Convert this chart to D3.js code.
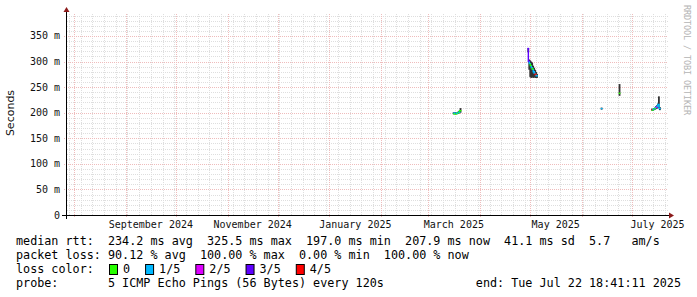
<!DOCTYPE html>
<html>
<head>
<meta charset="utf-8">
<script src="https://cdn.jsdelivr.net/npm/d3@7/dist/d3.min.js"></script>
<style>
  body { margin: 0; background: #fff; }
  svg { display: block; }
  text { font-family: "DejaVu Sans Mono", monospace; }
</style>
</head>
<body>
<div id="chart"></div>
<script>
// smokeping style rtt graph, last 360 days

// === DATA ===
const endTime = new Date(2025, 6, 22, 18, 41, 11);
const startTime = new Date(endTime.getTime() - 360 * 864e5);

// samples (one per consolidated column), rtt in ms
const sampleTimes = [
    '2025-03-16T10:00', '2025-03-17T00:00', '2025-03-17T14:00', '2025-03-18T04:00',
    '2025-03-18T18:00', '2025-03-19T08:00', '2025-03-19T22:00', '2025-03-20T12:00',
    '2025-04-30T02:00', '2025-04-30T16:00', '2025-05-01T06:00', '2025-05-01T20:00',
    '2025-05-02T10:00', '2025-05-03T00:00', '2025-05-03T14:00', '2025-05-04T04:00',
    '2025-05-04T18:00', '2025-05-05T08:00',
    '2025-06-13T00:00',
    '2025-06-23T18:00',
    '2025-07-13T06:00', '2025-07-13T20:00', '2025-07-14T10:00', '2025-07-15T00:00',
    '2025-07-15T14:00', '2025-07-16T04:00', '2025-07-16T18:00', '2025-07-17T08:00',
    '2025-07-17T22:00'
];
const medianMs = [
    199, 198, 199, 198, 199, 200, 201, 204,
    325.5, 300, 296, 292, 288, 285, 280, 277, 274, 272,
    208,
    238,
    206, 205, 207, 208, 210, 211, 213, 216, 207.9
];
const smokeLoMs = [
    197, 197, 197, 197, 198, 198, 199, 200,
    318, 284, 270, 268, 270, 268, 270, 268, 268, 268,
    206,
    233,
    204, 204, 205, 206, 207, 208, 209, 209, 205
];
const smokeHiMs = [
    201, 200, 201, 200, 201, 203, 204, 209,
    326, 304, 302, 300, 298, 292, 288, 284, 280, 276,
    210,
    256,
    208, 207, 209, 210, 213, 215, 218, 232, 211
];
const lossCount = [
    1, 0, 1, 0, 1, 0, 1, 0,
    3, 3, 1, 0, 1, 0, 1, 1, 4, 1,
    1,
    0,
    4, 0, 1, 0, 1, 2, 1, 1, 1
];

const lossLabels = ['0', '1/5', '2/5', '3/5', '4/5'];
const lossColors = ['#26ff00', '#00b8ff', '#dd00ff', '#5e00ff', '#ff0000'];

const yTicks = [0, 50, 100, 150, 200, 250, 300, 350];
const xLabelMonths = ['2024-09-01', '2024-11-01', '2025-01-01', '2025-03-01', '2025-05-01', '2025-07-01'];

const legendLines = [
    'median rtt:  234.2 ms avg  325.5 ms max  197.0 ms min  207.9 ms now  41.1 ms sd  5.7   am/s',
    'packet loss: 90.12 % avg  100.00 % max  0.00 % min  100.00 % now'
];
const probeText = 'probe:       5 ICMP Echo Pings (56 Bytes) every 120s';
const endText = 'end: Tue Jul 22 18:41:11 2025';

// === DRAW ===
const width = 697, height = 297;
const plotL = 67, plotR = 668, plotT = 14, plotB = 215;

const svg = d3.select('#chart').append('svg')
    .attr('width', width)
    .attr('height', height)
    .style('background', '#fff');

const x = d3.scaleTime().domain([startTime, endTime]).range([plotL, plotR]);
const y = d3.scaleLinear().domain([0, 393]).range([plotB, plotT]);

const parse = d3.timeParse('%Y-%m-%dT%H:%M');
const samples = sampleTimes.map((t, i) => ({
    t: parse(t), med: medianMs[i], lo: smokeLoMs[i], hi: smokeHiMs[i], loss: lossCount[i]
}));

// grid
const grid = svg.append('g');
const minorDash = '1,1';
const minorColor = '#dedede';
const majorColor = '#efbcbc';

grid.selectAll('.vminor')
    .data(d3.timeMonday.range(startTime, endTime))
    .enter().append('line')
    .attr('x1', d => Math.round(x(d)) + 0.5).attr('x2', d => Math.round(x(d)) + 0.5)
    .attr('y1', plotT).attr('y2', plotB)
    .attr('stroke', minorColor).attr('stroke-dasharray', minorDash);

grid.selectAll('.hminor')
    .data(d3.range(10, 393, 10).filter(v => v % 50 !== 0))
    .enter().append('line')
    .attr('x1', plotL).attr('x2', plotR)
    .attr('y1', d => Math.round(y(d)) + 0.5).attr('y2', d => Math.round(y(d)) + 0.5)
    .attr('stroke', minorColor).attr('stroke-dasharray', minorDash);

grid.selectAll('.vmajor')
    .data(d3.timeMonth.range(startTime, endTime))
    .enter().append('line')
    .attr('x1', d => Math.round(x(d)) + 0.5).attr('x2', d => Math.round(x(d)) + 0.5)
    .attr('y1', plotT).attr('y2', plotB + 3)
    .attr('stroke', majorColor).attr('stroke-dasharray', minorDash);

grid.selectAll('.hmajor')
    .data(yTicks.filter(v => v > 0))
    .enter().append('line')
    .attr('x1', plotL - 3).attr('x2', plotR)
    .attr('y1', d => Math.round(y(d)) + 0.5).attr('y2', d => Math.round(y(d)) + 0.5)
    .attr('stroke', majorColor).attr('stroke-dasharray', minorDash);

// smoke
const plot = svg.append('g');
plot.selectAll('.smoke')
    .data(samples)
    .enter().append('rect')
    .attr('x', d => x(d.t) - 0.9)
    .attr('width', 1.8)
    .attr('y', d => y(d.hi))
    .attr('height', d => y(d.lo) - y(d.hi))
    .attr('fill', '#333');

// median line, coloured by loss
samples.forEach((d, i) => {
    const prev = samples[i - 1];
    const cx = x(d.t);
    let path = `M${cx - 0.9},${y(d.med)}H${cx + 0.9}`;
    if (prev && (d.t - prev.t) < 864e5) {
        path = `M${cx - 0.9},${y(prev.med)}V${y(d.med)}H${cx + 0.9}`;
    }
    plot.append('path')
        .attr('d', path)
        .attr('fill', 'none')
        .attr('stroke', lossColors[d.loss])
        .attr('stroke-width', 1.4);
});

// axes
const axes = svg.append('g');
axes.append('line')
    .attr('x1', plotL - 0.5).attr('x2', plotL - 0.5)
    .attr('y1', plotB + 4).attr('y2', 11)
    .attr('stroke', '#000');
axes.append('line')
    .attr('x1', plotL - 5).attr('x2', plotR + 1)
    .attr('y1', plotB + 0.5).attr('y2', plotB + 0.5)
    .attr('stroke', '#000');
axes.append('path')
    .attr('d', `M${plotL - 3.5},${12}L${plotL - 0.5},${7}L${plotL + 2.5},${12}Z`)
    .attr('fill', '#8b1a1a');
axes.append('path')
    .attr('d', `M${plotR + 1},${plotB - 2.5}L${plotR + 6},${plotB + 0.5}L${plotR + 1},${plotB + 3.5}Z`)
    .attr('fill', '#8b1a1a');

// y tick labels
axes.selectAll('.ylab')
    .data(yTicks)
    .enter().append('text')
    .attr('x', 60)
    .attr('y', d => y(d) + 3.5)
    .attr('text-anchor', 'end')
    .attr('font-size', '10px')
    .attr('fill', '#111')
    .text(d => d === 0 ? '0' : `${d} m`);

// x labels centred in the month
axes.selectAll('.xlab')
    .data(xLabelMonths.map(m => d3.timeParse('%Y-%m-%d')(m)))
    .enter().append('text')
    .attr('x', d => (x(d) + x(d3.timeMonth.offset(d, 1))) / 2)
    .attr('y', 228)
    .attr('text-anchor', 'middle')
    .attr('font-size', '10px')
    .attr('fill', '#111')
    .text(d => d3.timeFormat('%B %Y')(d));

svg.append('text')
    .attr('transform', 'translate(14,113) rotate(-90)')
    .attr('text-anchor', 'middle')
    .style('font-family', '"DejaVu Sans", sans-serif')
    .attr('font-size', '11px')
    .attr('fill', '#111')
    .text('Seconds');

svg.append('text')
    .attr('transform', 'translate(684,5) rotate(90)')
    .style('font-family', '"DejaVu Sans Mono", monospace')
    .attr('font-size', '8.5px')
    .attr('fill', '#b4b4b4')
    .attr('textLength', 110)
    .attr('lengthAdjust', 'spacing')
    .text('RRDTOOL / TOBI OETIKER');

// legend
const legend = svg.append('g')
    .attr('font-size', '11.76px')
    .attr('fill', '#000');

legend.selectAll('.lline')
    .data(legendLines)
    .enter().append('text')
    .attr('x', 16)
    .attr('y', (d, i) => 245 + i * 14)
    .attr('xml:space', 'preserve')
    .style('white-space', 'pre')
    .text(d => d);

legend.append('text')
    .attr('x', 16).attr('y', 273)
    .text('loss color:');

let bx = 109;
lossLabels.forEach((lab, i) => {
    legend.append('rect')
        .attr('x', bx + 0.5).attr('y', 264.5)
        .attr('width', 8).attr('height', 10)
        .attr('fill', lossColors[i])
        .attr('stroke', '#000');
    const t = legend.append('text')
        .attr('x', bx + 14).attr('y', 273)
        .text(lab);
    bx += 14 + t.node().getComputedTextLength() + 15;
});

legend.append('text')
    .attr('x', 16).attr('y', 287)
    .attr('xml:space', 'preserve')
    .style('white-space', 'pre')
    .text(probeText);

legend.append('text')
    .attr('x', 681).attr('y', 287)
    .attr('text-anchor', 'end')
    .text(endText);
</script>
</body>
</html>
